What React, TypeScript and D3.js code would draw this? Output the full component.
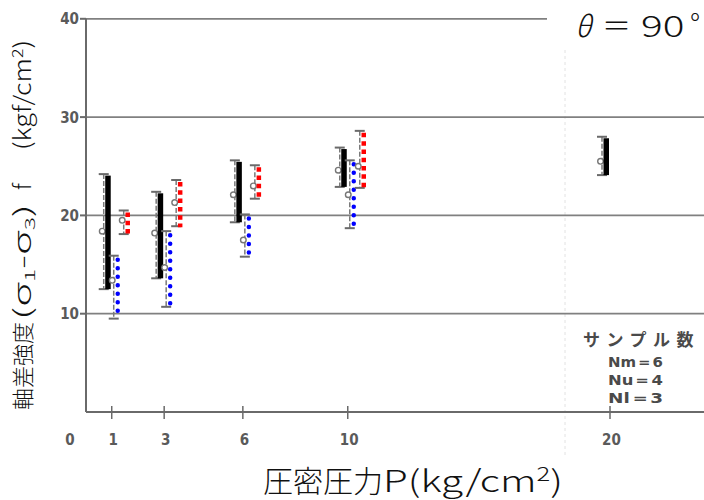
import React from "react";
import * as d3 from "d3";

// ---- data (kgf/cm2) ----
const xTickValues = [1, 3, 6, 10, 20];
const yTickValues = [10, 20, 30, 40];

const nmPressure = [1, 3, 6, 10, 20];
const nmMin = [12.5, 13.6, 19.3, 22.9, 24.1];
const nmMean = [18.4, 18.2, 22.1, 24.6, 25.5];
const nmMax = [24.2, 22.4, 25.6, 26.9, 28.0];

const nuPressure = [1, 3, 6, 10];
const nuMin = [18.1, 18.9, 21.7, 22.8];
const nuMean = [19.5, 21.3, 23.0, 25.0];
const nuMax = [20.5, 23.6, 25.1, 28.6];

const nlPressure = [1, 3, 6, 10];
const nlMin = [9.5, 10.7, 15.8, 18.7];
const nlMean = [13.4, 14.7, 17.5, 22.1];
const nlMax = [15.9, 18.4, 20.1, 25.6];

const legendTitle = "サンプル数";
const legendLines = ["Nm＝6", "Nu＝4", "Nl＝3"];

const W = 704;
const H = 500;

const x = d3.scaleLinear().domain([0, 20]).range([85.5, 610]);
const y = d3.scaleLinear().domain([0, 40]).range([412, 18.8]);

const tickFont = "'DejaVu Sans', sans-serif";
const titleFont = "'Noto Sans CJK JP', 'Noto Sans', sans-serif";
const grey = "#6a6a6a";

type Series = {
  p: number[];
  mn: number[];
  me: number[];
  mx: number[];
  off: number;
  kind: "black" | "red" | "blue";
};

const series: Series[] = [
  { p: nmPressure, mn: nmMin, me: nmMean, mx: nmMax, off: -8, kind: "black" },
  { p: nlPressure, mn: nlMin, me: nlMean, mx: nlMax, off: 2, kind: "blue" },
  { p: nuPressure, mn: nuMin, me: nuMean, mx: nuMax, off: 12, kind: "red" },
];

function Group({ s }: { s: Series }) {
  return (
    <g>
      {s.p.map((p, i) => {
        const cx = x(p) + s.off;
        const y0 = y(s.mx[i]);
        const y1 = y(s.mn[i]);
        const ym = y(s.me[i]);
        const bx = cx + 4;
        let bar: React.ReactNode = null;
        if (s.kind === "black") {
          bar = <rect x={bx - 2.5} y={y0 + 1.5} width={5.5} height={y1 - y0 - 1.5} fill="#000" />;
        } else if (s.kind === "red") {
          bar = (
            <line x1={bx} x2={bx} y1={y0 + 2} y2={y1 + 1} stroke="#ff0000" strokeWidth={4.5} strokeDasharray="4.5 3.8" />
          );
        } else {
          bar = (
            <line x1={bx} x2={bx} y1={y0 + 4} y2={y1 - 3} stroke="#0000ff" strokeWidth={4.5} strokeLinecap="round" strokeDasharray="0 8.5" />
          );
        }
        return (
          <g key={p}>
            <line x1={cx} x2={cx} y1={y0} y2={y1} stroke="#7a7a7a" strokeWidth={1.5} strokeDasharray="5 2" />
            <line x1={cx - 5} x2={cx + 5} y1={y0} y2={y0} stroke={grey} strokeWidth={2} />
            <line x1={cx - 5} x2={cx + 5} y1={y1} y2={y1} stroke={grey} strokeWidth={2} />
            <circle cx={cx - 1.5} cy={ym} r={2.8} fill="#fff" stroke="#777" strokeWidth={1.4} />
            {bar}
          </g>
        );
      })}
    </g>
  );
}

const tickStyle = { fontFamily: tickFont, fontWeight: "bold" as const, fontSize: 15, fill: "#5a5a5a", fontStretch: "condensed" };

export default function App() {
  const x0 = x(0);
  const tf = { fontFamily: titleFont, fontWeight: 300, fill: "#111" };
  return (
    <svg width={W} height={H} style={{ position: "absolute", left: 0, top: 0, background: "#fff" }}>
      <rect width={W} height={H} fill="#fff" />
      {/* faint vertical dotted line */}
      <line x1={565} x2={565} y1={50} y2={455} stroke="#e2e2e2" strokeWidth={1} strokeDasharray="3 3" />
      {/* grid lines */}
      {yTickValues.map((v) => (
        <line
          key={v}
          x1={x0}
          x2={v === 40 ? 547 : W}
          y1={y(v)}
          y2={y(v)}
          stroke="#808080"
          strokeWidth={1.8}
        />
      ))}
      {/* axes */}
      <line x1={86} x2={86} y1={y(40)} y2={412} stroke={grey} strokeWidth={2} />
      <line x1={86} x2={W} y1={412} y2={412} stroke={grey} strokeWidth={2} />
      {yTickValues.map((v) => (
        <g key={v}>
          <line x1={80} x2={86} y1={y(v)} y2={y(v)} stroke={grey} strokeWidth={2} />
          <text x={79} y={y(v) + 5.5} textAnchor="end" style={tickStyle}>
            {v}
          </text>
        </g>
      ))}
      {xTickValues.map((v) => (
        <g key={v}>
          <line x1={x(v)} x2={x(v)} y1={406} y2={419} stroke={grey} strokeWidth={1.5} />
          <text x={x(v) + 1.5} y={445} textAnchor="middle" style={tickStyle}>
            {v}
          </text>
        </g>
      ))}
      <text x={70} y={445} textAnchor="middle" style={tickStyle}>
        0
      </text>

      {series.map((s) => (
        <Group key={s.kind} s={s} />
      ))}

      {/* legend */}
      <text x={583} y={346} fontFamily={titleFont} fontWeight="bold" fontSize={17} fill="#4a4a4a" letterSpacing={6.5}>
        {legendTitle}
      </text>
      {legendLines.map((t, i) => (
        <text key={t} x={608} y={367 + i * 18} style={{ ...tickStyle, fontSize: 14, fill: "#4a4a4a" }} textLength={55} lengthAdjust="spacingAndGlyphs">
          {t}
        </text>
      ))}

      {/* top-right label */}
      <text x={575} y={37} fontSize={29} fontStyle="italic" {...tf}>θ</text>
      <text x={602} y={37} fontSize={29} {...tf}>＝</text>
      <text transform="translate(641,37) scale(1.4,1)" fontSize={29} {...tf}>90</text>
      <text x={690} y={35} fontSize={29} {...tf}>°</text>

      {/* x title */}
      <text x={263} y={492} fontSize={30} {...tf}>圧密圧力</text>
      <text x={383} y={492} fontSize={30} {...tf} textLength={180} lengthAdjust="spacingAndGlyphs">
        P(kg/cm<tspan fontSize={19} dy={-11}>2</tspan><tspan dy={11}>)</tspan>
      </text>

      {/* y title */}
      <g transform="translate(31,0) rotate(-90)">
        <text x={-410} y={0} fontSize={22} {...tf}>
          軸差強度
        </text>
        <text x={-320} y={0} fontSize={24} {...tf} textLength={116} lengthAdjust="spacingAndGlyphs">
          (σ<tspan fontSize={14} dy={4}>1</tspan><tspan dy={-4}>-σ</tspan><tspan fontSize={14} dy={4}>3</tspan><tspan dy={-4}>)</tspan>
        </text>
        <text x={-190} y={0} fontSize={23} {...tf}>
          f
        </text>
        <text x={-150} y={0} fontSize={23} {...tf} textLength={110} lengthAdjust="spacingAndGlyphs">
          (kgf/cm<tspan fontSize={15} dy={-8}>2</tspan><tspan dy={8}>)</tspan>
        </text>
      </g>
    </svg>
  );
}
